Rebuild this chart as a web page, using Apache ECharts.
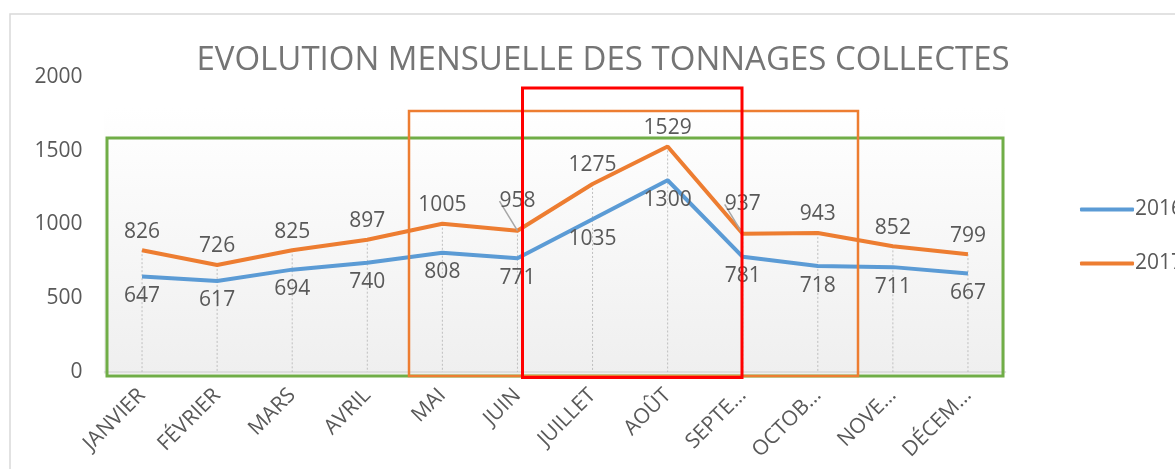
<!DOCTYPE html>
<html>
<head>
<meta charset="utf-8">
<script src="https://cdn.jsdelivr.net/npm/echarts@6/dist/echarts.min.js"></script>
<style>
  html, body { margin: 0; padding: 0; background: #fff; }
  #chart { width: 1175px; height: 469px; }
</style>
</head>
<body>
<div id="chart"></div>
<script>
// months and the labels Excel shows (truncated)
var months = ['JANVIER', 'FÉVRIER', 'MARS', 'AVRIL', 'MAI', 'JUIN', 'JUILLET', 'AOÛT', 'SEPTEMBRE', 'OCTOBRE', 'NOVEMBRE', 'DÉCEMBRE'];
var monthLabels = ['JANVIER', 'FÉVRIER', 'MARS', 'AVRIL', 'MAI', 'JUIN', 'JUILLET', 'AOÛT', 'SEPTE…', 'OCTOB…', 'NOVE…', 'DÉCEM…'];
var tonnes2016 = [647, 617, 694, 740, 808, 771, 1035, 1300, 781, 718, 711, 667];
var tonnes2017 = [826, 726, 825, 897, 1005, 958, 1275, 1529, 937, 943, 852, 799];
var yTicks = [0, 500, 1000, 1500, 2000];

var chartDom = document.getElementById('chart');
var myChart = echarts.init(chartDom);
var option;

var textColor = '#595959';
var font = 'Open Sans';

// drop lines from the highest point down to the axis
var dropData = [];
for (let i = 0; i < months.length; i++) {
  dropData.push([i, Math.max(tonnes2016[i], tonnes2017[i])]);
}

// JUIN and SEPTEMBRE labels were dragged up in the original, with a leader line
var moved = [5, 8];
var data2017 = tonnes2017.map(function (v, i) {
  return { value: v, labelLine: { show: moved.indexOf(i) >= 0 } };
});

option = {
  backgroundColor: '#fff',
  textStyle: { fontFamily: font },
  title: {
    text: 'EVOLUTION MENSUELLE DES TONNAGES COLLECTES',
    left: 598,
    textAlign: 'center',
    top: 39,
    textStyle: { color: '#757575', fontSize: 33, fontWeight: 'normal', fontFamily: font }
  },
  legend: {
    orient: 'vertical',
    left: 1075,
    top: 194,
    itemWidth: 54,
    itemHeight: 4,
    itemGap: 33,
    icon: 'roundRect',
    textStyle: { color: textColor, fontSize: 21, fontFamily: font, padding: [0, 0, 0, -4] },
    data: ['2016', '2017']
  },
  grid: { left: 104.5, right: 169.5, top: 77, bottom: 97, containLabel: false },
  graphic: [
    { type: 'rect', z: -1, shape: { x: 10, y: 14, width: 1200, height: 500 }, style: { fill: 'none', stroke: '#d9d9d9', lineWidth: 1.5 } },
    { type: 'rect', z: -1, shape: { x: 104, y: 108, width: 901, height: 266 },
      style: { fill: new echarts.graphic.LinearGradient(0, 0, 0, 1, [
        { offset: 0, color: '#ffffff' }, { offset: 1, color: '#efefef' }]) } },
    { type: 'rect', z: 100, shape: { x: 107, y: 138, width: 896, height: 238 }, style: { fill: 'none', stroke: '#70ad47', lineWidth: 3 } },
    { type: 'rect', z: 100, shape: { x: 409, y: 111, width: 449, height: 265 }, style: { fill: 'none', stroke: '#ed7d31', lineWidth: 2.5 } },
    { type: 'rect', z: 100, shape: { x: 522.5, y: 88, width: 219.5, height: 289.5 }, style: { fill: 'none', stroke: '#ff0000', lineWidth: 3 } }
  ],
  xAxis: {
    type: 'category',
    data: months,
    boundaryGap: true,
    axisLine: { lineStyle: { color: '#d9d9d9', width: 1.5 } },
    axisTick: { show: false },
    axisLabel: {
      interval: 0,
      rotate: 45,
      margin: 20,
      color: textColor,
      fontSize: 21,
      fontFamily: font,
      formatter: function (v, i) { return monthLabels[i]; }
    },
    splitLine: { show: false }
  },
  yAxis: {
    type: 'value',
    min: 0,
    max: 2000,
    interval: 500,
    axisLine: { show: false },
    axisTick: { show: false },
    splitLine: { show: false },
    axisLabel: {
      margin: 22,
      color: textColor,
      fontSize: 21,
      fontFamily: font,
      formatter: function (v) { return yTicks.indexOf(v) >= 0 ? String(v) : ''; }
    }
  },
  series: [
    {
      type: 'custom',
      silent: true,
      z: 1,
      renderItem: function (params, api) {
        var top = api.coord([api.value(0), api.value(1)]);
        var bottom = api.coord([api.value(0), 0]);
        return {
          type: 'line',
          shape: { x1: top[0], y1: top[1], x2: bottom[0], y2: bottom[1] },
          style: { stroke: '#bfbfbf', lineWidth: 1, lineDash: [2, 2] }
        };
      },
      data: dropData
    },
    {
      name: '2016',
      type: 'line',
      z: 3,
      data: tonnes2016,
      color: '#5b9bd5',
      showSymbol: true,
      symbol: 'circle',
      symbolSize: 0,
      lineStyle: { width: 4, color: '#5b9bd5' },
      label: { show: true, position: 'bottom', distance: 9, color: textColor, fontSize: 21, fontFamily: font },
      labelLayout: { hideOverlap: false }
    },
    {
      name: '2017',
      type: 'line',
      z: 3,
      data: data2017,
      color: '#ed7d31',
      showSymbol: true,
      symbol: 'circle',
      symbolSize: 0,
      lineStyle: { width: 4, color: '#ed7d31' },
      label: { show: true, position: 'top', distance: 8, color: textColor, fontSize: 21, fontFamily: font },
      labelLine: { show: false, lineStyle: { color: '#a6a6a6', width: 1.5 } },
      labelLayout: function (params) {
        if (moved.indexOf(params.dataIndex) >= 0) {
          return { dy: -11, hideOverlap: false };
        }
        return { hideOverlap: false };
      }
    }
  ]
};

option && myChart.setOption(option);
</script>
</body>
</html>
